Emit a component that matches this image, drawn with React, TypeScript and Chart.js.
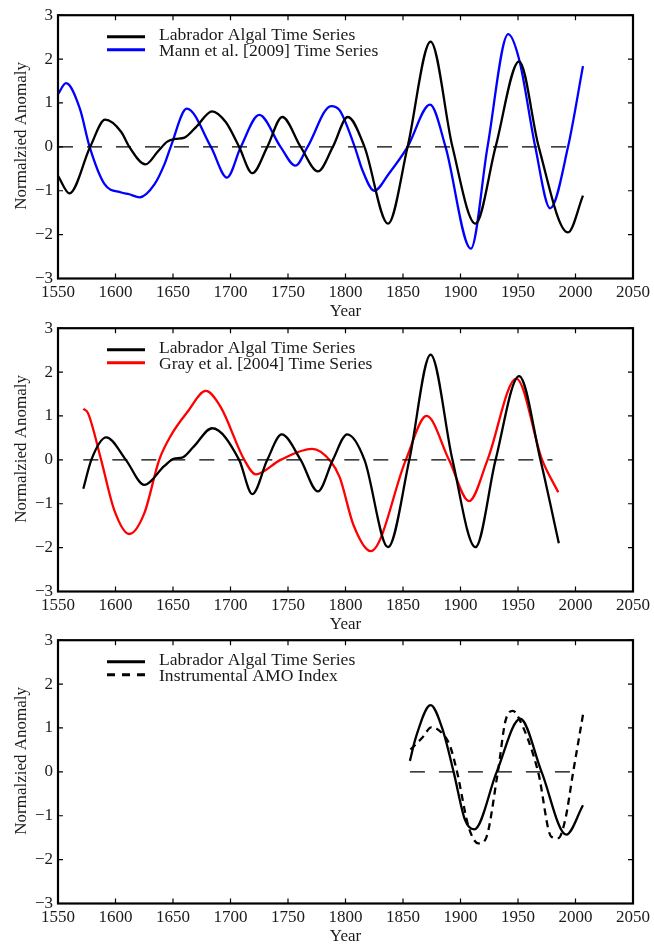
import React, { useEffect, useRef } from "react";
import { Chart, registerables } from "chart.js";

Chart.register(...registerables);

// ---------- axis ticks ----------
const xTicks = [1550, 1600, 1650, 1700, 1750, 1800, 1850, 1900, 1950, 2000, 2050];
const yTicks = [-3, -2, -1, 0, 1, 2, 3];

// ---------- panel 1 ----------
const labrador1Years = [1550, 1560, 1578, 1591, 1605, 1612, 1626, 1637, 1645, 1652, 1660, 1670, 1684, 1696, 1707.5, 1719, 1732, 1745, 1761, 1776, 1789, 1802, 1816.5, 1837, 1854, 1874, 1893, 1913, 1930.5, 1951, 1968, 1993.5, 2006.5];
const labrador1Values = [-0.66, -1.06, 0.0, 0.62, 0.34, 0.0, -0.4, -0.1, 0.12, 0.18, 0.21, 0.45, 0.81, 0.56, 0.0, -0.6, 0.0, 0.68, 0.0, -0.56, 0.0, 0.68, 0.0, -1.75, 0.0, 2.4, 0.0, -1.75, 0.0, 1.95, 0.0, -1.95, -1.11];

const mannYears = [1550, 1557, 1569, 1577.5, 1590.5, 1605, 1612, 1621, 1634, 1642.5, 1648, 1662, 1683, 1697, 1709, 1725, 1743.5, 1756.5, 1767, 1787.5, 1795, 1808, 1815, 1825, 1838, 1854, 1873.5, 1887, 1909, 1923.5, 1941.5, 1951, 1965, 1978, 1993.5, 2006.5];
const mannValues = [1.2, 1.45, 0.87, 0.0, -0.85, -1.04, -1.08, -1.15, -0.85, -0.4, 0.0, 0.87, 0.0, -0.7, 0.0, 0.73, 0.0, -0.43, 0.0, 0.93, 0.83, 0.0, -0.55, -1.0, -0.6, 0.0, 0.96, 0.0, -2.32, 0.0, 2.57, 1.99, 0.0, -1.4, 0.0, 1.84];

const zero1Years = [1550, 2000];

// ---------- panel 2 ----------
const labrador2Years = [1572, 1579, 1592, 1609, 1625, 1642.5, 1651, 1658, 1668, 1684, 1707.5, 1719, 1732, 1744.5, 1761, 1776, 1789, 1801.5, 1816.5, 1837, 1855.5, 1874, 1893, 1913, 1930.5, 1951, 1969.5, 1985.5];
const labrador2Values = [-0.66, 0.0, 0.51, 0.0, -0.57, -0.14, 0.03, 0.05, 0.3, 0.72, 0.0, -0.78, 0.0, 0.58, 0.0, -0.72, 0.0, 0.58, 0.0, -1.99, 0.0, 2.4, 0.0, -1.99, 0.0, 1.91, 0.0, -1.9];

const grayYears = [1572, 1576, 1587.5, 1599, 1612, 1625, 1638, 1648.5, 1662.5, 1678.5, 1691.5, 1712, 1722, 1743.5, 1771, 1787, 1795, 1807, 1822, 1852.5, 1870.5, 1890, 1907.5, 1923.5, 1948.5, 1971, 1985];
const grayValues = [1.16, 1.07, 0.0, -1.15, -1.69, -1.22, 0.0, 0.57, 1.09, 1.57, 1.2, 0.0, -0.33, 0.0, 0.25, -0.03, -0.4, -1.49, -2.08, 0.0, 1.0, 0.0, -0.94, 0.0, 1.85, 0.0, -0.74];

const zero2Years = [1572, 1980];

// ---------- panel 3 ----------
const labrador3Years = [1856, 1861, 1874, 1884, 1894, 1904, 1912, 1931.5, 1952, 1970.5, 1992, 2006.5];
const labrador3Values = [0.25, 0.77, 1.52, 1.0, 0.0, -1.1, -1.31, 0.0, 1.21, 0.0, -1.43, -0.76];

const amoYears = [1856.5, 1866.5, 1875, 1884, 1891, 1897, 1907, 1915.5, 1921.5, 1932.5, 1939, 1945.5, 1950, 1967.5, 1979, 1985, 1991, 1998, 2006.5];
const amoValues = [0.51, 0.77, 1.02, 0.88, 0.58, 0.0, -1.25, -1.63, -1.55, 0.0, 1.15, 1.39, 1.26, 0.0, -1.48, -1.51, -1.1, 0.0, 1.3];

const zero3Years = [1856, 2000];

const FONT_FAMILY = "'Liberation Serif', 'DejaVu Serif', serif";
const TEXT_COLOR = "#1a1a1a";
const Y_TITLE = "Normalzied Anomaly";

type Series = {
  label: string;
  years: number[];
  values: number[];
  color: string;
  dash?: number[];
  legendDash?: number[];
};

const toPoints = (xs: number[], ys: number[]) => xs.map((x, i) => ({ x, y: ys[i] }));

const framePlugin = {
  id: "frameTicksLegend",
  afterDatasetsDraw(chart: any) {
    const { ctx, chartArea: a, scales } = chart;
    ctx.save();
    ctx.strokeStyle = "#000";
    ctx.lineWidth = 1.2;
    const tl = 5;
    ctx.beginPath();
    for (const t of xTicks) {
      const px = scales.x.getPixelForValue(t);
      ctx.moveTo(px, a.bottom);
      ctx.lineTo(px, a.bottom - tl);
      ctx.moveTo(px, a.top);
      ctx.lineTo(px, a.top + tl);
    }
    for (const t of yTicks) {
      const py = scales.y.getPixelForValue(t);
      ctx.moveTo(a.left, py);
      ctx.lineTo(a.left + tl, py);
      ctx.moveTo(a.right, py);
      ctx.lineTo(a.right - tl, py);
    }
    ctx.stroke();
    ctx.lineWidth = 2.2;
    ctx.strokeRect(a.left, a.top, a.right - a.left, a.bottom - a.top);

    // y-axis title
    ctx.save();
    ctx.translate(22, (a.top + a.bottom) / 2 - 11);
    ctx.rotate(-Math.PI / 2);
    ctx.fillStyle = TEXT_COLOR;
    ctx.font = `17px ${FONT_FAMILY}`;
    ctx.textAlign = "center";
    ctx.textBaseline = "middle";
    ctx.fillText(Y_TITLE, 0, 0);
    ctx.restore();

    // legend
    const items = chart.data.datasets.filter((d: any) => d.showInLegend);
    items.forEach((d: any, i: number) => {
      const ly = a.top + 21.5 + i * 13;
      ctx.beginPath();
      ctx.strokeStyle = d.borderColor;
      ctx.lineWidth = 3;
      ctx.setLineDash(d.legendDash || []);
      ctx.moveTo(107, ly);
      ctx.lineTo(145, ly);
      ctx.stroke();
      ctx.setLineDash([]);
      ctx.fillStyle = TEXT_COLOR;
      ctx.font = `17.6px ${FONT_FAMILY}`;
      ctx.textBaseline = "alphabetic";
      ctx.textAlign = "left";
      ctx.fillText(d.label, 159, a.top + 24.5 + i * 16.5);
    });
    ctx.restore();
  },
};

function Panel({ series, zeroYears, top }: { series: Series[]; zeroYears: number[]; top: number }) {
  const ref = useRef<HTMLCanvasElement | null>(null);
  useEffect(() => {
    if (!ref.current) return;
    const font = { family: FONT_FAMILY, size: 17 };
    const datasets: any[] = [
      {
        label: "zero",
        data: toPoints(zeroYears, zeroYears.map(() => 0)),
        borderColor: "#000",
        borderWidth: 1.1,
        borderDash: [15, 14],
        pointRadius: 0,
        fill: false,
        showInLegend: false,
      },
      ...series.map((s) => ({
        label: s.label,
        data: toPoints(s.years, s.values),
        borderColor: s.color,
        borderWidth: 2.3,
        borderDash: s.dash || [],
        legendDash: s.legendDash,
        pointRadius: 0,
        fill: false,
        cubicInterpolationMode: "monotone",
        showInLegend: true,
      })),
    ];
    const chart = new Chart(ref.current, {
      type: "line",
      data: { datasets },
      options: {
        animation: false,
        responsive: false,
        maintainAspectRatio: false,
        layout: { padding: { left: 0, right: 19, top: 12, bottom: 0 } },
        plugins: { legend: { display: false }, tooltip: { enabled: false } },
        scales: {
          x: {
            type: "linear",
            min: 1550,
            max: 2050,
            afterBuildTicks: (s: any) => {
              s.ticks = xTicks.map((v) => ({ value: v }));
            },
            afterFit: (s: any) => {
              s.height = 46.5;
            },
            grid: { display: false, drawTicks: false },
            border: { display: false },
            ticks: {
              font,
              color: TEXT_COLOR,
              padding: 4,
              maxRotation: 0,
              autoSkip: false,
              callback: (v: any) => String(v),
            },
            title: { display: true, text: "Year", font, color: TEXT_COLOR, padding: { top: 0, bottom: 3 } },
          },
          y: {
            type: "linear",
            min: -3,
            max: 3,
            afterBuildTicks: (s: any) => {
              s.ticks = yTicks.map((v) => ({ value: v }));
            },
            afterFit: (s: any) => {
              s.width = 58;
            },
            grid: { display: false, drawTicks: false },
            border: { display: false },
            ticks: {
              font,
              color: TEXT_COLOR,
              padding: 5,
              callback: (v: any) => (v < 0 ? "\u2212" + Math.abs(v) : String(v)),
            },
          },
        },
      } as any,
      plugins: [framePlugin],
    });
    return () => chart.destroy();
  }, []);
  return (
    <canvas
      ref={ref}
      width={654}
      height={325}
      style={{ position: "absolute", left: 0, top, width: 654, height: 325 }}
    />
  );
}

export default function App() {
  const panel1: Series[] = [
    { label: "Labrador Algal Time Series", years: labrador1Years, values: labrador1Values, color: "#000000" },
    { label: "Mann et al. [2009] Time Series", years: mannYears, values: mannValues, color: "#0000ff" },
  ];
  const panel2: Series[] = [
    { label: "Labrador Algal Time Series", years: labrador2Years, values: labrador2Values, color: "#000000" },
    { label: "Gray et al. [2004] Time Series", years: grayYears, values: grayValues, color: "#ff0000" },
  ];
  const panel3: Series[] = [
    { label: "Labrador Algal Time Series", years: labrador3Years, values: labrador3Values, color: "#000000" },
    { label: "Instrumental AMO Index", years: amoYears, values: amoValues, color: "#000000", dash: [7, 5], legendDash: [8, 7] },
  ];
  return (
    <div style={{ position: "absolute", left: 0, top: 0, width: 654, height: 945, overflow: "hidden", background: "#fff" }}>
      <Panel series={panel1} zeroYears={zero1Years} top={0} />
      <Panel series={panel2} zeroYears={zero2Years} top={313} />
      <Panel series={panel3} zeroYears={zero3Years} top={625} />
    </div>
  );
}
